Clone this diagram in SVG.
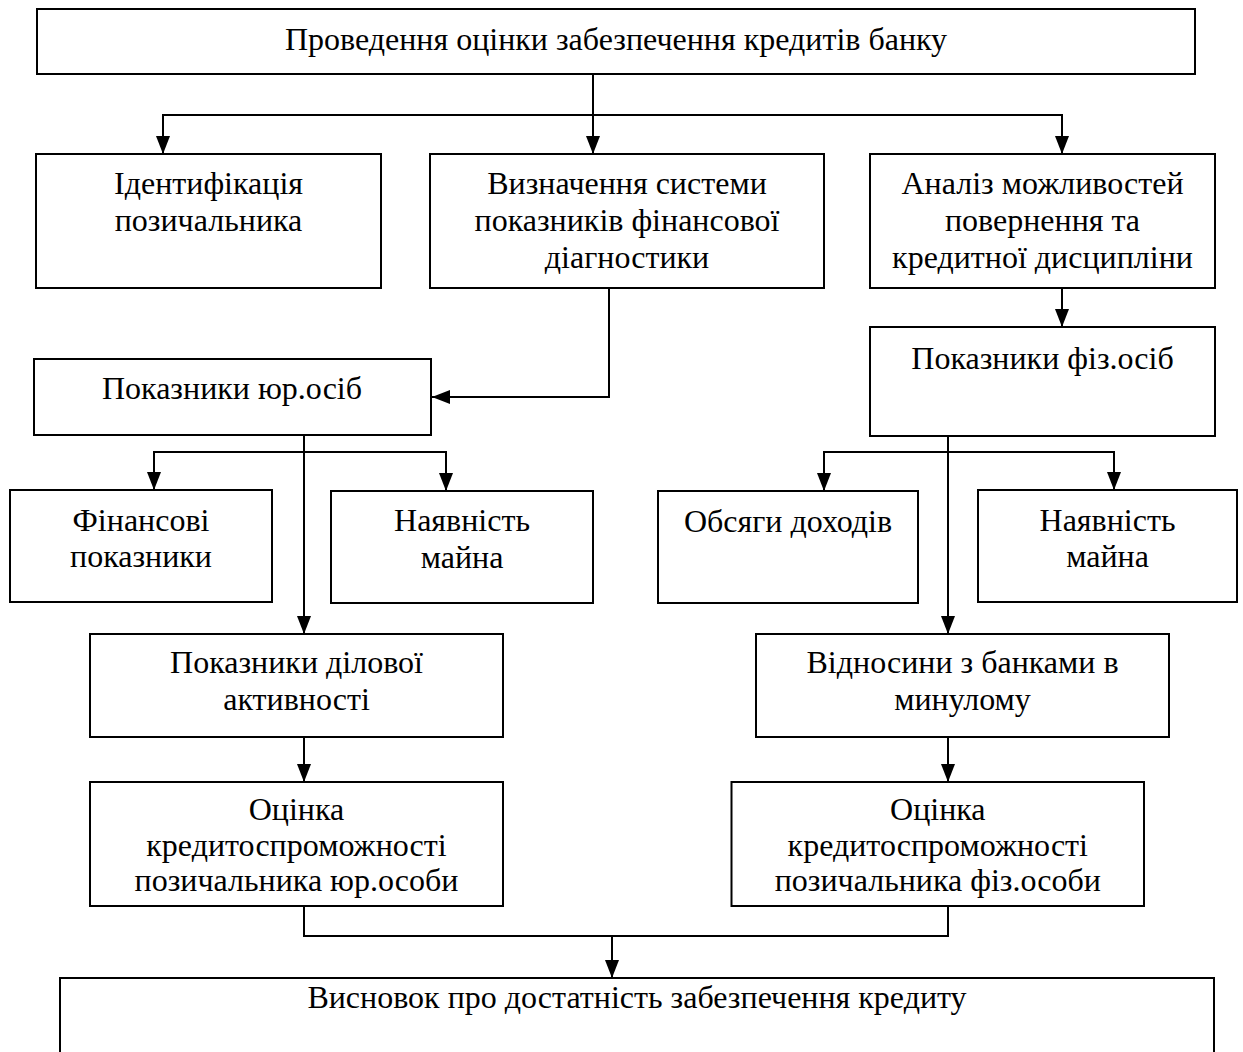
<svg xmlns="http://www.w3.org/2000/svg" width="1243" height="1052" viewBox="0 0 1243 1052">
<defs>
<marker id="arr" markerUnits="userSpaceOnUse" markerWidth="18" markerHeight="14" refX="18" refY="7" orient="auto">
<path d="M0,0 L18,7 L0,14 z" fill="#000"/>
</marker>
<style>
.box{fill:#fff;stroke:#000;stroke-width:2}
.t{font-family:"Liberation Serif","Times New Roman",serif;font-size:32px;fill:#000;text-anchor:middle}
.c{fill:none;stroke:#000;stroke-width:2}
.a{marker-end:url(#arr)}
</style>
</defs>
<rect width="1243" height="1052" fill="#fff"/>
<g id="connectors">
<path class="c a" d="M593,74 V154"/>
<path class="c a" d="M593,115 H163 V154"/>
<path class="c a" d="M593,115 H1062 V154"/>
<path class="c a" d="M609,288 V397 H432"/>
<path class="c a" d="M1062,288 V327"/>
<path class="c a" d="M304,452 H154 V490"/>
<path class="c a" d="M304,452 H446 V491"/>
<path class="c a" d="M304,435 V634"/>
<path class="c a" d="M948,452 H824 V491"/>
<path class="c a" d="M948,452 H1114 V490"/>
<path class="c a" d="M948,436 V634"/>
<path class="c a" d="M304,737 V782"/>
<path class="c a" d="M948,737 V782"/>
<path class="c a" d="M304,906 V936 H612 V978"/>
<path class="c" d="M948,906 V936 H612"/>
</g>
<g id="n-top"><rect class="box" x="37" y="9" width="1158" height="65"/><text class="t" x="616" y="50">Проведення оцінки забезпечення кредитів банку</text></g>
<g id="n-ident"><rect class="box" x="36" y="154" width="345" height="134"/><text class="t" x="208.5" y="194">Ідентифікація</text><text class="t" x="208.5" y="231">позичальника</text></g>
<g id="n-vyzn"><rect class="box" x="430" y="154" width="394" height="134"/><text class="t" x="627" y="194">Визначення системи</text><text class="t" x="627" y="231">показників фінансової</text><text class="t" x="627" y="268">діагностики</text></g>
<g id="n-analiz"><rect class="box" x="870" y="154" width="345" height="134"/><text class="t" x="1042.5" y="194">Аналіз можливостей</text><text class="t" x="1042.5" y="231">повернення та</text><text class="t" x="1042.5" y="268">кредитної дисципліни</text></g>
<g id="n-yur"><rect class="box" x="34" y="359" width="397" height="76"/><text class="t" x="232" y="399">Показники юр.осіб</text></g>
<g id="n-fiz"><rect class="box" x="870" y="327" width="345" height="109"/><text class="t" x="1042.5" y="369">Показники фіз.осіб</text></g>
<g id="n-fin"><rect class="box" x="10" y="490" width="262" height="112"/><text class="t" x="141" y="531">Фінансові</text><text class="t" x="141" y="567">показники</text></g>
<g id="n-mayno1"><rect class="box" x="331" y="491" width="262" height="112"/><text class="t" x="462" y="531">Наявність</text><text class="t" x="462" y="568">майна</text></g>
<g id="n-dohody"><rect class="box" x="658" y="491" width="260" height="112"/><text class="t" x="788" y="532">Обсяги доходів</text></g>
<g id="n-mayno2"><rect class="box" x="978" y="490" width="259" height="112"/><text class="t" x="1107.5" y="531">Наявність</text><text class="t" x="1107.5" y="567">майна</text></g>
<g id="n-dilova"><rect class="box" x="90" y="634" width="413" height="103"/><text class="t" x="296.5" y="673">Показники ділової</text><text class="t" x="296.5" y="710">активності</text></g>
<g id="n-vidnosyny"><rect class="box" x="756" y="634" width="413" height="103"/><text class="t" x="962.5" y="673">Відносини з банками в</text><text class="t" x="962.5" y="710">минулому</text></g>
<g id="n-ocinka-yur"><rect class="box" x="90" y="782" width="413" height="124"/><text class="t" x="296.5" y="820">Оцінка</text><text class="t" x="296.5" y="856">кредитоспроможності</text><text class="t" x="296.5" y="891">позичальника юр.особи</text></g>
<g id="n-ocinka-fiz"><rect class="box" x="731.5" y="782" width="412.5" height="124"/><text class="t" x="937.8" y="820">Оцінка</text><text class="t" x="937.8" y="856">кредитоспроможності</text><text class="t" x="937.8" y="891">позичальника фіз.особи</text></g>
<g id="n-vysnovok"><rect class="box" x="60" y="978" width="1154" height="100"/><text class="t" x="637" y="1008">Висновок про достатність забезпечення кредиту</text></g>
</svg>
